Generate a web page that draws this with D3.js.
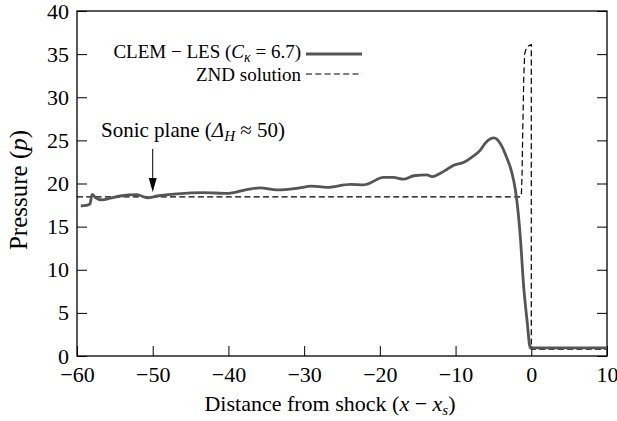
<!DOCTYPE html>
<html><head><meta charset="utf-8">
<script src="https://cdn.jsdelivr.net/npm/d3@7"></script>
</head>
<body style="margin:0">
<svg id="c" width="617" height="421"></svg>
<script>
// ---- data ----
const xTicks = [-60,-50,-40,-30,-20,-10,0,10];
const yTicks = [0,5,10,15,20,25,30,35,40];
const clemX = [-59.5,-58.6,-58.3,-58.0,-57.6,-56.7,-55.6,-54.3,-52.1,-50.7,-49.4,-46.8,-43.3,-40.2,-37.6,-35.8,-33.6,-30.9,-29.0,-27.0,-23.9,-22.1,-19.5,-18.2,-16.9,-15.5,-13.8,-13.1,-12.0,-11.2,-10.3,-8.9,-8.1,-6.7,-6.1,-5.4,-4.9,-4.1,-3.2,-2.55,-2.1,-1.8,-1.45,-1.0,-0.57,-0.13,0.05,10];
const clemP = [17.4,17.5,17.6,18.75,18.4,18.1,18.3,18.55,18.7,18.35,18.55,18.8,18.95,18.85,19.3,19.5,19.25,19.45,19.7,19.55,19.9,19.85,20.7,20.7,20.5,20.9,21.0,20.8,21.2,21.6,22.1,22.45,22.9,23.9,24.65,25.2,25.3,24.65,22.9,21.2,19.25,17.2,13.8,8.0,4.2,0.95,0.95,0.95];
const zndX = [-60,-1.4,-1.3,-1.22,-1.15,-1.0,-0.88,-0.66,-0.3,0,0,10];
const zndP = [18.45,18.45,18.9,21,25,32,35,35.7,36,36.1,0.8,0.8];
const legendLabels = ["CLEM − LES", "ZND solution"];
const sonicX = -50;

const fams = ["Liberation Serif"];
const fontOf = f => `"${f}", monospace`;
const FONT = fontOf(fams[0]);

// ---- layout ----
const svg = d3.select("#c");
const L=77, R=607, T=11, B=356;
const x = d3.scaleLinear().domain([-60,10]).range([L,R]);
const y = d3.scaleLinear().domain([0,40]).range([B,T]);

// axes
const fmt = d => (d<0 ? "\u2212"+Math.abs(d) : ""+d);
const gx = svg.append("g").attr("transform",`translate(0,${B})`)
  .call(d3.axisBottom(x).tickValues(xTicks).tickSize(-10).tickPadding(10).tickFormat(fmt));
const gy = svg.append("g").attr("transform",`translate(${L},0)`)
  .call(d3.axisLeft(y).tickValues(yTicks).tickSize(-10).tickPadding(8).tickFormat(fmt));
const gr = svg.append("g").attr("transform",`translate(${R},0)`)
  .call(d3.axisRight(y).tickValues(yTicks).tickSize(-10).tickFormat(""));
[gx,gy,gr].forEach(g=>{
  g.attr("font-family", null).attr("font-size", null);
  g.select(".domain").remove();
  g.selectAll(".tick line").attr("stroke","#000").attr("stroke-width",1);
  g.selectAll(".tick text").style("font-family", FONT).style("font-size","22px").attr("fill","#000");
});

// frame
svg.append("rect").attr("x",L).attr("y",T).attr("width",R-L).attr("height",B-T)
  .attr("fill","none").attr("stroke","#000").attr("stroke-width",1.3);

// lines
const clem = clemX.map((v,i)=>[v,clemP[i]]);
const znd = zndX.map((v,i)=>[v,zndP[i]]);
const line = d3.line().x(d=>x(d[0])).y(d=>y(d[1]));
svg.append("path").datum(znd).attr("d",line).attr("fill","none")
  .attr("stroke","#000").attr("stroke-width",1.2).attr("stroke-dasharray","6,3.3");
svg.append("path").datum(clem).attr("d",d3.line().x(d=>x(d[0])).y(d=>y(d[1])).curve(d3.curveMonotoneX))
  .attr("fill","none").attr("stroke","#555").attr("stroke-width",2.8).attr("stroke-linejoin","round");

function txt(sel, size){ return sel.style("font-family", FONT).style("font-size", size).attr("fill","#000"); }

// legend
const lg = svg.append("g");
const t1 = txt(lg.append("text"),"19px").attr("x",301).attr("y",58).attr("text-anchor","end");
t1.append("tspan").text(legendLabels[0]+" (");
t1.append("tspan").style("font-style","italic").text("C");
t1.append("tspan").style("font-style","italic").style("font-size","14px").attr("dy",4).text("κ");
t1.append("tspan").attr("dy",-4).text(" = 6.7)");
lg.append("line").attr("x1",306).attr("x2",362).attr("y1",54).attr("y2",54)
  .attr("stroke","#555").attr("stroke-width",2.8);
txt(lg.append("text"),"19px").attr("x",301).attr("y",81).attr("text-anchor","end").text(legendLabels[1]);
lg.append("line").attr("x1",306).attr("x2",362).attr("y1",74).attr("y2",74)
  .attr("stroke","#000").attr("stroke-width",1.2).attr("stroke-dasharray","6,3.3");

// sonic plane annotation
const st = txt(svg.append("text"),"21px").attr("x",101).attr("y",137);
st.append("tspan").text("Sonic plane (");
st.append("tspan").style("font-style","italic").text("Δ");
st.append("tspan").style("font-style","italic").style("font-size","15px").attr("dy",4).text("H");
st.append("tspan").attr("dy",-4).text(" ≈ 50)");
const ax = x(sonicX);
svg.append("line").attr("x1",ax).attr("x2",ax).attr("y1",149).attr("y2",180)
  .attr("stroke","#000").attr("stroke-width",1);
svg.append("path").attr("d",`M${ax-4},178 L${ax+4},178 L${ax},192 Z`).attr("fill","#000");

// axis titles
const xt = txt(svg.append("text"),"22px").attr("x",330).attr("y",411).attr("text-anchor","middle");
xt.append("tspan").text("Distance from shock (");
xt.append("tspan").style("font-style","italic").text("x");
xt.append("tspan").text(" − ");
xt.append("tspan").style("font-style","italic").text("x");
xt.append("tspan").style("font-style","italic").style("font-size","15px").attr("dy",4).text("s");
xt.append("tspan").attr("dy",-4).text(")");

const yt = txt(svg.append("text"),"25px").attr("transform","translate(27,190) rotate(-90)").attr("text-anchor","middle");
yt.append("tspan").text("Pressure (");
yt.append("tspan").style("font-style","italic").text("p");
yt.append("tspan").text(")");
</script></body></html>
